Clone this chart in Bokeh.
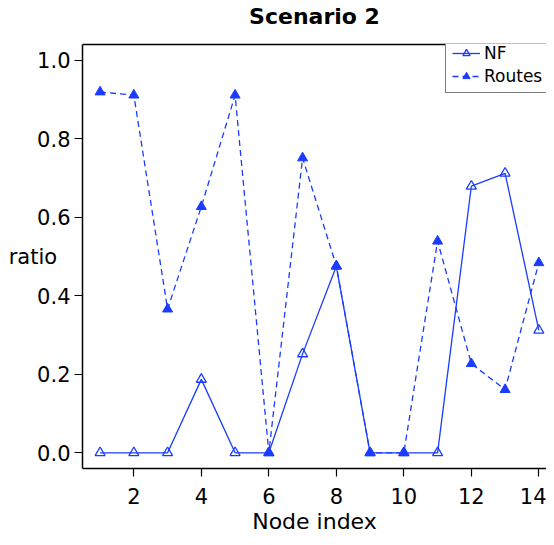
from bokeh.plotting import figure
from bokeh.models import (Range1d, LinearAxis, FixedTicker, Legend, LegendItem,
                          CustomJSTickFormatter)
from bokeh.embed import file_html
from bokeh.resources import INLINE

node_index = [1, 2, 3, 4, 5, 6, 7, 8, 9, 10, 11, 12, 13, 14]
nf_ratio = [0.0, 0.0, 0.0, 0.187, 0.0, 0.0, 0.252, 0.475, 0.0, 0.0, 0.0, 0.679, 0.712, 0.312]
routes_ratio = [0.919, 0.911, 0.366, 0.627, 0.911, 0.0, 0.751, 0.476, 0.0, 0.0, 0.539, 0.227, 0.161, 0.484]
x_ticks = [2, 4, 6, 8, 10, 12, 14]
y_ticks = [0.0, 0.2, 0.4, 0.6, 0.8, 1.0]

FONT = "DejaVu Sans"
BLUE = "#1a3cff"

p = figure(width=546, height=537, output_backend="svg", toolbar_location=None,
           x_range=Range1d(0.479, 14.227), y_range=Range1d(-0.04, 1.04),
           min_border_left=82, min_border_right=0, min_border_top=44, min_border_bottom=69)
p.outline_line_color = None
p.grid.visible = False
p.background_fill_color = "white"
p.border_fill_color = "white"

for ax in (p.xaxis[0], p.yaxis[0]):
    ax.axis_line_color = "black"
    ax.axis_line_width = 1.5
    ax.major_tick_line_color = "black"
    ax.major_tick_line_width = 1.2
    ax.major_tick_out = 8
    ax.major_tick_in = 0
    ax.minor_tick_line_color = None
    ax.major_label_text_font = FONT
    ax.major_label_text_font_size = "21px"
    ax.major_label_text_color = "black"
    ax.axis_label_text_font = FONT
    ax.axis_label_text_font_size = "21px"
    ax.axis_label_text_font_style = "normal"
    ax.axis_label_text_color = "black"

p.xaxis[0].ticker = FixedTicker(ticks=x_ticks)
p.yaxis[0].ticker = FixedTicker(ticks=y_ticks)
p.yaxis[0].formatter = CustomJSTickFormatter(code="return tick.toFixed(1);")
p.xaxis[0].major_label_standoff = 11
p.yaxis[0].major_label_standoff = 4

p.xaxis[0].axis_label = "Node index"
p.xaxis[0].axis_label_text_font_size = "22px"
p.xaxis[0].axis_label_standoff = 2

p.yaxis[0].axis_label = "ratio"
p.yaxis[0].axis_label_orientation = "horizontal"
p.yaxis[0].axis_label_standoff = -23

top_axis = LinearAxis(ticker=FixedTicker(ticks=[]), axis_line_color="black", axis_line_width=1.5,
                      major_tick_line_color=None, minor_tick_line_color=None,
                      major_tick_out=0, major_tick_in=0,
                      major_label_text_font_size="0px", major_label_standoff=0,
                      axis_label="Scenario 2", axis_label_text_font=FONT,
                      axis_label_text_font_size="22px", axis_label_text_font_style="bold",
                      axis_label_text_color="black", axis_label_standoff=16)
p.add_layout(top_axis, "above")

nf_line = p.line(node_index, nf_ratio, line_color=BLUE, line_width=1.3)
nf_pts = p.scatter(node_index, nf_ratio, marker="triangle", size=10, line_color=BLUE,
                   fill_color="white", fill_alpha=0.0, line_width=1.3)
rt_line = p.line(node_index, routes_ratio, line_color=BLUE, line_width=1.3, line_dash="6 4")
rt_pts = p.scatter(node_index, routes_ratio, marker="triangle", size=10, line_color=BLUE,
                   fill_color=BLUE, line_width=1.0)

legend = Legend(items=[LegendItem(label="NF", renderers=[nf_line, nf_pts]),
                       LegendItem(label="Routes", renderers=[rt_line, rt_pts])],
                location=(363, 375), border_line_color="black", border_line_width=1.2,
                background_fill_color="white", background_fill_alpha=1.0,
                label_text_font=FONT, label_text_font_size="17px", label_text_color="black",
                glyph_width=28, glyph_height=18, label_height=18, label_standoff=4,
                padding=6, spacing=3, margin=0)
p.add_layout(legend, "center")

open("out.html", "w").write(file_html(p, INLINE))
